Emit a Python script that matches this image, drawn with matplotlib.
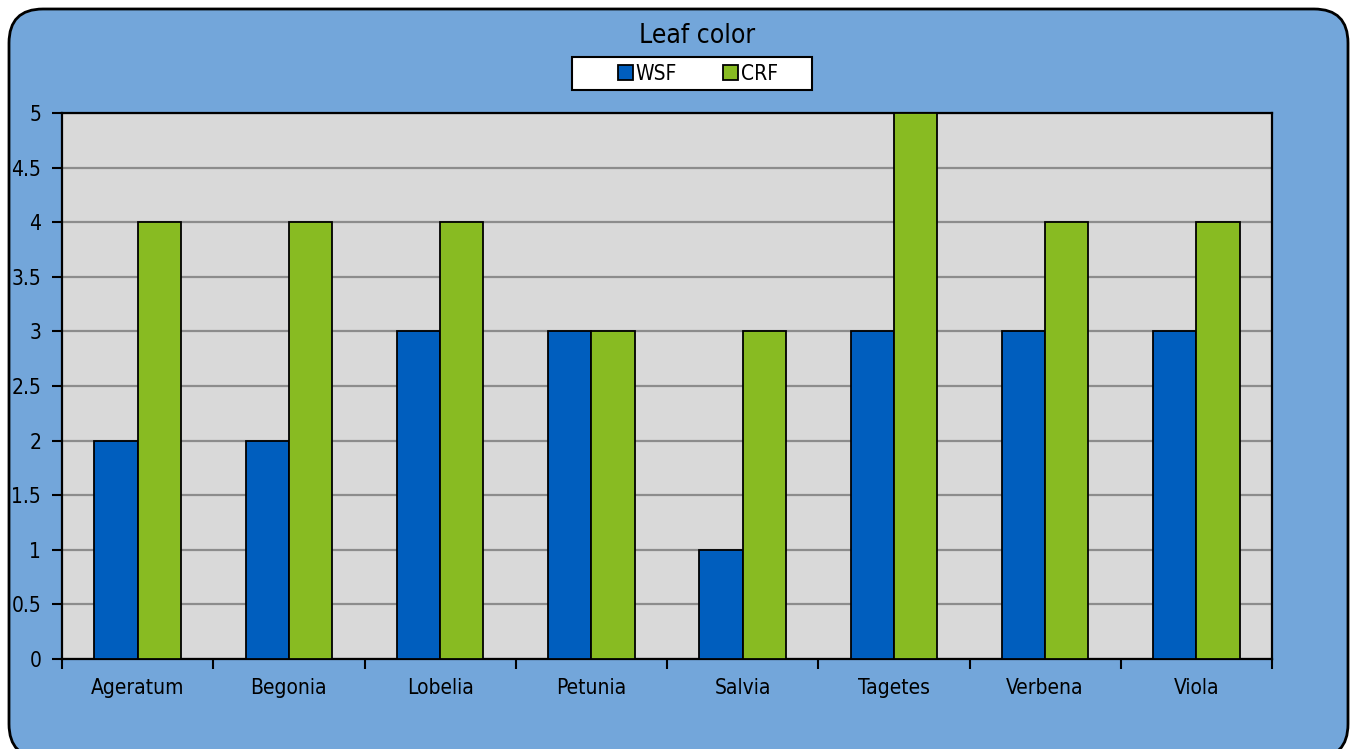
import numpy as np
import matplotlib.pyplot as plt
from matplotlib.patches import FancyBboxPatch, Patch, Rectangle

plt.rcParams['font.family'] = ['DejaVu Sans']
plt.rcParams['font.stretch'] = 'condensed'

plants = ["Ageratum", "Begonia", "Lobelia", "Petunia", "Salvia", "Tagetes", "Verbena", "Viola"]
wsf = [2, 2, 3, 3, 1, 3, 3, 3]
crf = [4, 4, 4, 3, 3, 5, 4, 4]

W, H = 1353, 749
fig = plt.figure(figsize=(W / 100, H / 100), dpi=100)
fig.patch.set_facecolor("white")

# rounded blue panel behind everything, drawn in pixel space
bg = fig.add_axes([0, 0, 1, 1])
bg.set_xlim(0, W)
bg.set_ylim(H, 0)
bg.axis("off")
bg.add_patch(FancyBboxPatch((9, 9), 1339, 749, boxstyle="round,pad=0,rounding_size=34",
                            facecolor="#73A6DA", edgecolor="black", linewidth=2))
# legend box
bg.add_patch(Rectangle((572, 57), 240, 33, facecolor="white", edgecolor="black", linewidth=1.5))

ax = fig.add_axes([62 / W, 1 - 659 / H, 1210 / W, 546 / H])
ax.set_facecolor("#D9D9D9")

x = np.arange(len(plants))
bw = 2 / 7
ax.bar(x - bw / 2, wsf, bw, color="#005EBE", edgecolor="black", linewidth=1.3, zorder=3, label="WSF")
ax.bar(x + bw / 2, crf, bw, color="#88BB22", edgecolor="black", linewidth=1.3, zorder=3, label="CRF")

ax.set_xlim(-0.5, len(plants) - 0.5)
ax.set_ylim(0, 5)
ax.set_yticks(np.arange(0, 5.01, 0.5))
ax.set_yticklabels(["0", "0.5", "1", "1.5", "2", "2.5", "3", "3.5", "4", "4.5", "5"])
ax.yaxis.grid(True, color="#8C8C8C", linewidth=1.6, zorder=1)
ax.set_axisbelow(True)

# category ticks sit between groups, labels in the middle
ax.set_xticks(np.arange(-0.5, len(plants), 1))
ax.set_xticklabels([])
ax.set_xticks(x, minor=True)
ax.set_xticklabels(plants, minor=True)
ax.tick_params(axis="x", which="major", length=7, width=1.5, direction="out")
ax.tick_params(axis="x", which="minor", length=0, pad=14, labelsize=15)
ax.tick_params(axis="y", length=7, width=1.5, direction="out", pad=8, labelsize=15)
for s in ax.spines.values():
    s.set_color("black")
    s.set_linewidth(1.6)

fig.text(697 / W, 1 - 36 / H, "Leaf color", ha="center", va="center", fontsize=19)

handles = [Patch(facecolor="#005EBE", edgecolor="black", linewidth=1.3, label="WSF"),
           Patch(facecolor="#88BB22", edgecolor="black", linewidth=1.3, label="CRF")]
leg = fig.legend(handles=handles, loc="center", bbox_to_anchor=(698 / W, 1 - 73.5 / H), ncol=2,
                 fontsize=15, frameon=False, handlelength=0.7, handleheight=0.7,
                 handletextpad=0.15, columnspacing=2.2, borderpad=0, borderaxespad=0)

fig.savefig("out.png", dpi=100)
